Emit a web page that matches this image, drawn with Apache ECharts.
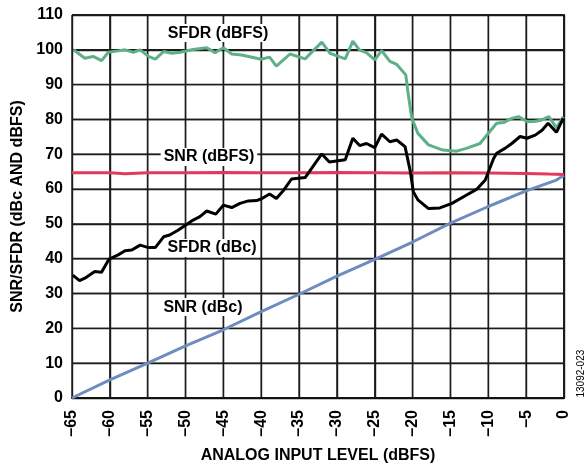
<!DOCTYPE html>
<html><head><meta charset="utf-8">
<script src="https://cdn.jsdelivr.net/npm/echarts@6/dist/echarts.min.js"></script>
<style>html,body{margin:0;padding:0;background:#fff}#c{width:588px;height:465px}</style>
</head><body><div id="c"></div>
<script>
var sfdrDbfsX = [-64.8,-63.3,-62.2,-61.1,-60.2,-58.9,-58.0,-56.9,-56.0,-54.9,-54.0,-52.9,-51.8,-50.7,-49.0,-47.2,-46.1,-45.0,-43.9,-42.6,-40.0,-38.9,-38.0,-36.2,-34.2,-32.0,-30.9,-28.9,-27.9,-27.0,-26.1,-25.0,-24.1,-23.0,-22.1,-20.9,-20.6,-20.1,-19.3,-17.9,-16.0,-14.2,-12.9,-11.1,-8.9,-8.0,-6.9,-6.0,-4.9,-4.0,-3.0,-2.0,-1.0,-0.1];
var sfdrDbfsY = [100,97.6,98.1,96.9,99.3,99.7,100,99.3,100,98.1,97.3,99.5,99,99.3,100.1,100.6,99.2,100.6,98.8,98.5,97.3,97.9,95.3,98.8,97.4,102.2,99,97.4,102.5,99.9,99.2,97.1,99.8,96.7,95.8,92.8,87.5,80.3,76,72.7,71.2,70.9,71.7,73.1,78.9,79.1,80.3,80.8,79.4,79.4,79.8,80.8,77.6,80.8];
var sfdrDbcX = [-64.9,-64.0,-63.3,-62.0,-61.1,-60.1,-58.9,-58.0,-57.1,-56.0,-54.9,-54.0,-52.9,-52.1,-51.0,-50.1,-49.0,-48.1,-47.2,-46.0,-45.0,-43.9,-42.8,-41.7,-40.6,-39.9,-38.9,-38.0,-37.1,-36.0,-34.2,-32.0,-31.0,-28.9,-27.9,-27.0,-26.1,-25.0,-24.1,-23.0,-22.1,-21.0,-20.3,-19.9,-19.3,-17.9,-16.4,-14.8,-13.1,-11.5,-10.4,-9.3,-8.9,-7.8,-6.9,-5.8,-4.9,-3.8,-2.9,-2.1,-1.0,-0.1];
var sfdrDbcY = [35.3,33.7,34.4,36.3,36.1,39.9,41.1,42.3,42.5,43.9,43.2,43.2,46.3,46.8,48.2,49.5,51.1,52.1,53.7,52.8,55.4,54.7,55.9,56.6,56.7,57.3,58.6,57.3,59.5,62.9,63.3,70.1,67.8,68.4,74.6,72.5,73.1,71.9,75.8,73.6,74.1,72.2,65,59.2,56.9,54.4,54.6,55.9,58,60,62.6,68.8,70.3,71.7,73.1,75.1,74.6,75.5,76.9,78.9,76.3,80.3];
var snrDbfsX = [-65,-60,-58,-55,-50,-45,-40,-35,-30,-25,-20,-15,-10,-5,-2,0];
var snrDbfsY = [64.7,64.7,64.4,64.7,64.7,64.8,64.7,64.7,64.8,64.7,64.6,64.7,64.6,64.5,64.3,64.2];
var snrDbcX = [-65,-60,-55,-50,-45,-40,-35,-30,-25,-20,-15,-10,-5,-1,0];
var snrDbcY = [0,5.2,10,15,19.6,24.8,29.8,35,39.8,44.8,50.2,55,59.5,62.6,64];
var xTicks = [-65,-60,-55,-50,-45,-40,-35,-30,-25,-20,-15,-10,-5,0];
var yTicks = [0,10,20,30,40,50,60,70,80,90,100,110];
var curveLabels = [
  {name:'SFDR (dBFS)', x:-45.7, y:104.8},
  {name:'SNR (dBFS)', x:-46.9, y:69.2},
  {name:'SFDR (dBc)', x:-46.5, y:43.1},
  {name:'SNR (dBc)', x:-47.7, y:26.1}
];
var noteText = '13092-023';
function zip(a,b){return a.map(function(v,i){return [v,b[i]];});}
var FONT = 'Liberation Sans, Arial, sans-serif';
var GRID = '#1c1c1c';
var chart = echarts.init(document.getElementById('c'));
function curve(name, xs, ys, color){
  return {type:'line', name:name, data:zip(xs, ys), showSymbol:false, z:3, lineStyle:{color:color, width:3}};
}
var gridSeries = [];
var xMin = xTicks[0], xMax = xTicks[xTicks.length-1], yMin = yTicks[0], yMax = yTicks[yTicks.length-1];
xTicks.forEach(function(v){
  gridSeries.push({type:'line', data:[[v,yMin],[v,yMax]], showSymbol:false,
    lineStyle:{color:GRID, width:(v===xMax)?2:1.4}});
});
yTicks.forEach(function(v){
  gridSeries.push({type:'line', data:[[xMin,v],[xMax,v]], showSymbol:false,
    lineStyle:{color:GRID, width:(v===yMax)?2:1.4}});
});
chart.setOption({
  animation:false,
  grid:{left:72, right:24, top:15, bottom:67, outerBoundsMode:'none'},
  xAxis:{type:'value', min:-65, max:0, interval:5,
    axisLine:{show:true, lineStyle:{color:'#000', width:2}},
    splitLine:{show:true, lineStyle:{color:GRID, width:1.4}},
    axisTick:{show:false},
    axisLabel:{rotate:90, margin:12, color:'#000', fontFamily:FONT, fontWeight:'bold', fontSize:16,
      formatter:function(v){return v<0?'\u2013'+Math.abs(v):String(v);}},
    name:'ANALOG INPUT LEVEL (dBFS)', nameLocation:'middle', nameGap:50,
    nameTextStyle:{color:'#000', fontFamily:FONT, fontWeight:'bold', fontSize:16}
  },
  yAxis:{type:'value', min:0, max:110, interval:10,
    axisLine:{show:true, lineStyle:{color:'#000', width:2}},
    splitLine:{show:true, lineStyle:{color:GRID, width:1.4}},
    axisTick:{show:false},
    axisLabel:{margin:9, color:'#000', fontFamily:FONT, fontWeight:'bold', fontSize:16},
    name:'SNR/SFDR (dBc AND dBFS)', nameLocation:'middle', nameGap:37,
    nameTextStyle:{color:'#000', fontFamily:FONT, fontWeight:'bold', fontSize:16}
  },
  series: gridSeries.concat([
    curve('SNR (dBc)', snrDbcX, snrDbcY, '#6f8cc0'),
    curve('SNR (dBFS)', snrDbfsX, snrDbfsY, '#e23a5c'),
    curve('SFDR (dBFS)', sfdrDbfsX, sfdrDbfsY, '#5fb088'),
    curve('SFDR (dBc)', sfdrDbcX, sfdrDbcY, '#000'),
    {type:'scatter', symbolSize:0, z:4, itemStyle:{opacity:1},
      data:curveLabels.map(function(d){return {name:d.name, value:[d.x,d.y]};}),
      label:{show:true, position:'inside', formatter:'{b}', color:'#000', fontFamily:FONT, fontWeight:'bold', fontSize:16,
        backgroundColor:'#fff', padding:[1,3]}},
    {type:'scatter', symbolSize:0, z:4, itemStyle:{opacity:1}, clip:false,
      data:[{name:noteText, value:[0,7]}],
      label:{show:true, position:'inside', offset:[0,17], rotate:90, formatter:'{b}', color:'#000', fontFamily:FONT, fontSize:10}}
  ])
});
</script></body></html>
